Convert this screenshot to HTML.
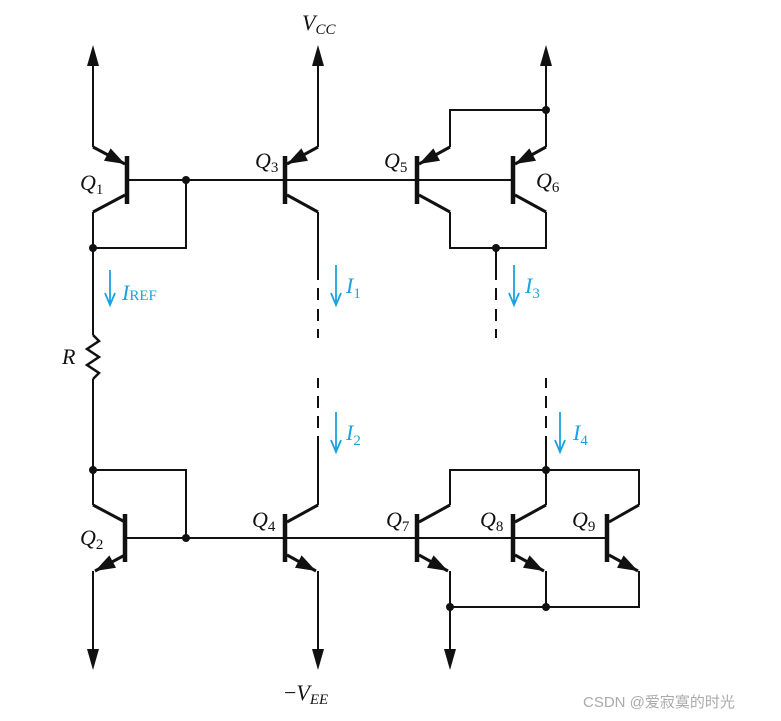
<!DOCTYPE html>
<html><head><meta charset="utf-8"><style>
html,body{margin:0;padding:0;background:#fff;width:781px;height:721px;overflow:hidden}
svg{display:block}
.t{font-family:"Liberation Serif",serif;font-style:italic;fill:#111}
.c{font-family:"Liberation Serif",serif;font-style:italic;fill:#1aa3e0}
</style></head><body>
<svg width="781" height="721" viewBox="0 0 781 721" xmlns="http://www.w3.org/2000/svg">
<g stroke="#111" stroke-width="2" fill="none" stroke-linejoin="miter">
<line x1="93" y1="147" x2="93" y2="62"/>
<line x1="318" y1="147" x2="318" y2="62"/>
<line x1="546" y1="147" x2="546" y2="62"/>
<line x1="93" y1="147" x2="125" y2="164" stroke-width="3"/>
<line x1="93" y1="212" x2="125" y2="195" stroke-width="3"/>
<polyline points="93,212 93,248 186,248 186,180"/>
<line x1="318" y1="147" x2="287" y2="164" stroke-width="3"/>
<line x1="287" y1="195" x2="318" y2="212" stroke-width="3"/>
<line x1="318" y1="212" x2="318" y2="280"/>
<line x1="318" y1="288" x2="318" y2="300"/>
<line x1="318" y1="309" x2="318" y2="321"/>
<line x1="318" y1="329" x2="318" y2="338"/>
<polyline points="450,147 450,110 546,110"/>
<line x1="450" y1="147" x2="419" y2="164" stroke-width="3"/>
<line x1="546" y1="147" x2="515" y2="164" stroke-width="3"/>
<line x1="419" y1="195" x2="450" y2="212" stroke-width="3"/>
<line x1="515" y1="195" x2="546" y2="212" stroke-width="3"/>
<polyline points="450,212 450,248 546,248 546,212"/>
<line x1="496" y1="248" x2="496" y2="280"/>
<line x1="496" y1="288" x2="496" y2="300"/>
<line x1="496" y1="309" x2="496" y2="321"/>
<line x1="496" y1="329" x2="496" y2="338"/>
<line x1="127" y1="180" x2="515" y2="180"/>
<line x1="93" y1="248" x2="93" y2="335"/>
<polyline points="93,335 99,341 87,349 99,357 87,365 99,373 93,379" stroke-width="2.5"/>
<line x1="93" y1="379" x2="93" y2="505"/>
<line x1="318" y1="378" x2="318" y2="388"/>
<line x1="318" y1="396" x2="318" y2="408"/>
<line x1="318" y1="416" x2="318" y2="428"/>
<line x1="318" y1="436" x2="318" y2="505"/>
<line x1="546" y1="378" x2="546" y2="388"/>
<line x1="546" y1="396" x2="546" y2="408"/>
<line x1="546" y1="416" x2="546" y2="428"/>
<line x1="546" y1="436" x2="546" y2="505"/>
<polyline points="93,470 186,470 186,538"/>
<line x1="93" y1="505" x2="125" y2="522" stroke-width="3"/>
<line x1="125" y1="555" x2="95" y2="571" stroke-width="3"/>
<line x1="93" y1="571" x2="93" y2="665"/>
<line x1="287" y1="522" x2="318" y2="505" stroke-width="3"/>
<line x1="287" y1="555" x2="316" y2="571" stroke-width="3"/>
<line x1="318" y1="571" x2="318" y2="665"/>
<polyline points="450,505 450,470 639,470 639,505"/>
<line x1="419" y1="522" x2="450" y2="505" stroke-width="3"/>
<line x1="515" y1="522" x2="546" y2="505" stroke-width="3"/>
<line x1="609" y1="522" x2="639" y2="505" stroke-width="3"/>
<line x1="419" y1="555" x2="448" y2="571" stroke-width="3"/>
<line x1="515" y1="555" x2="544" y2="571" stroke-width="3"/>
<line x1="609" y1="555" x2="638" y2="571" stroke-width="3"/>
<polyline points="450,571 450,607 639,607 639,571"/>
<line x1="546" y1="571" x2="546" y2="607"/>
<line x1="450" y1="607" x2="450" y2="665"/>
<line x1="127" y1="538" x2="609" y2="538"/>
</g>
<g stroke="#111" stroke-width="4.5">
<line x1="127" y1="156" x2="127" y2="204"/>
<line x1="285" y1="156" x2="285" y2="204"/>
<line x1="417" y1="156" x2="417" y2="204"/>
<line x1="513" y1="156" x2="513" y2="204"/>
<line x1="125" y1="514" x2="125" y2="562"/>
<line x1="285" y1="514" x2="285" y2="562"/>
<line x1="417" y1="514" x2="417" y2="562"/>
<line x1="513" y1="514" x2="513" y2="562"/>
<line x1="607" y1="514" x2="607" y2="562"/>
</g>
<g fill="#111">
<polygon points="125,164 104,160.8 110.6,148.4"/>
<polygon points="287,164 308,160.8 301.4,148.4"/>
<polygon points="419,164 440,160.8 433.4,148.4"/>
<polygon points="515,164 536,160.8 529.4,148.4"/>
<polygon points="95,571 116,567.8 109.4,555.4"/>
<polygon points="316,571 295,567.8 301.6,555.4"/>
<polygon points="448,571 427,567.8 433.6,555.4"/>
<polygon points="544,571 523,567.8 529.6,555.4"/>
<polygon points="638,571 617,567.8 623.6,555.4"/>
<polygon points="93,45 87,66 99,66"/>
<polygon points="318,45 312,66 324,66"/>
<polygon points="546,45 540,66 552,66"/>
<polygon points="93,670 87,649 99,649"/>
<polygon points="318,670 312,649 324,649"/>
<polygon points="450,670 444,649 456,649"/>
<circle cx="186" cy="180" r="4"/>
<circle cx="93" cy="248" r="4"/>
<circle cx="546" cy="110" r="4"/>
<circle cx="496" cy="248" r="4"/>
<circle cx="93" cy="470" r="4"/>
<circle cx="186" cy="538" r="4"/>
<circle cx="546" cy="470" r="4"/>
<circle cx="450" cy="607" r="4"/>
<circle cx="546" cy="607" r="4"/>
</g>
<g stroke="#1aa3e0" stroke-width="1.8" fill="none">
<path d="M110,270 V304 M105,293 L110,305 L115,293"/>
<path d="M336,265 V304 M331,293 L336,305 L341,293"/>
<path d="M514,265 V304 M509,293 L514,305 L519,293"/>
<path d="M336,412 V451 M331,440 L336,452 L341,440"/>
<path d="M560,412 V451 M555,440 L560,452 L565,440"/>
</g>
<g font-size="22">
<text class="c" x="122" y="300">I<tspan font-style="normal" font-size="15">REF</tspan></text>
<text class="c" x="346" y="293">I<tspan font-style="normal" font-size="15" dy="5">1</tspan></text>
<text class="c" x="525" y="293">I<tspan font-style="normal" font-size="15" dy="5">3</tspan></text>
<text class="c" x="346" y="440">I<tspan font-style="normal" font-size="15" dy="5">2</tspan></text>
<text class="c" x="573" y="440">I<tspan font-style="normal" font-size="15" dy="5">4</tspan></text>
<text class="t" x="80" y="190">Q<tspan font-style="normal" font-size="15" dy="4">1</tspan></text>
<text class="t" x="255" y="168">Q<tspan font-style="normal" font-size="15" dy="4">3</tspan></text>
<text class="t" x="384" y="168">Q<tspan font-style="normal" font-size="15" dy="4">5</tspan></text>
<text class="t" x="536" y="188">Q<tspan font-style="normal" font-size="15" dy="4">6</tspan></text>
<text class="t" x="80" y="545">Q<tspan font-style="normal" font-size="15" dy="4">2</tspan></text>
<text class="t" x="252" y="527">Q<tspan font-style="normal" font-size="15" dy="4">4</tspan></text>
<text class="t" x="386" y="527">Q<tspan font-style="normal" font-size="15" dy="4">7</tspan></text>
<text class="t" x="480" y="527">Q<tspan font-style="normal" font-size="15" dy="4">8</tspan></text>
<text class="t" x="572" y="527">Q<tspan font-style="normal" font-size="15" dy="4">9</tspan></text>
<text class="t" x="62" y="364">R</text>
<text class="t" x="302" y="30">V<tspan font-size="15" dy="4">CC</tspan></text>
<text class="t" x="284" y="700"><tspan font-style="normal">−</tspan>V<tspan font-size="15" dy="4">EE</tspan></text>
</g>
<text x="583" y="707" font-family="'Liberation Sans','Noto Sans CJK SC',sans-serif" font-size="15" fill="#aaa">CSDN @爱寂寞的时光</text>
</svg>
</body></html>
